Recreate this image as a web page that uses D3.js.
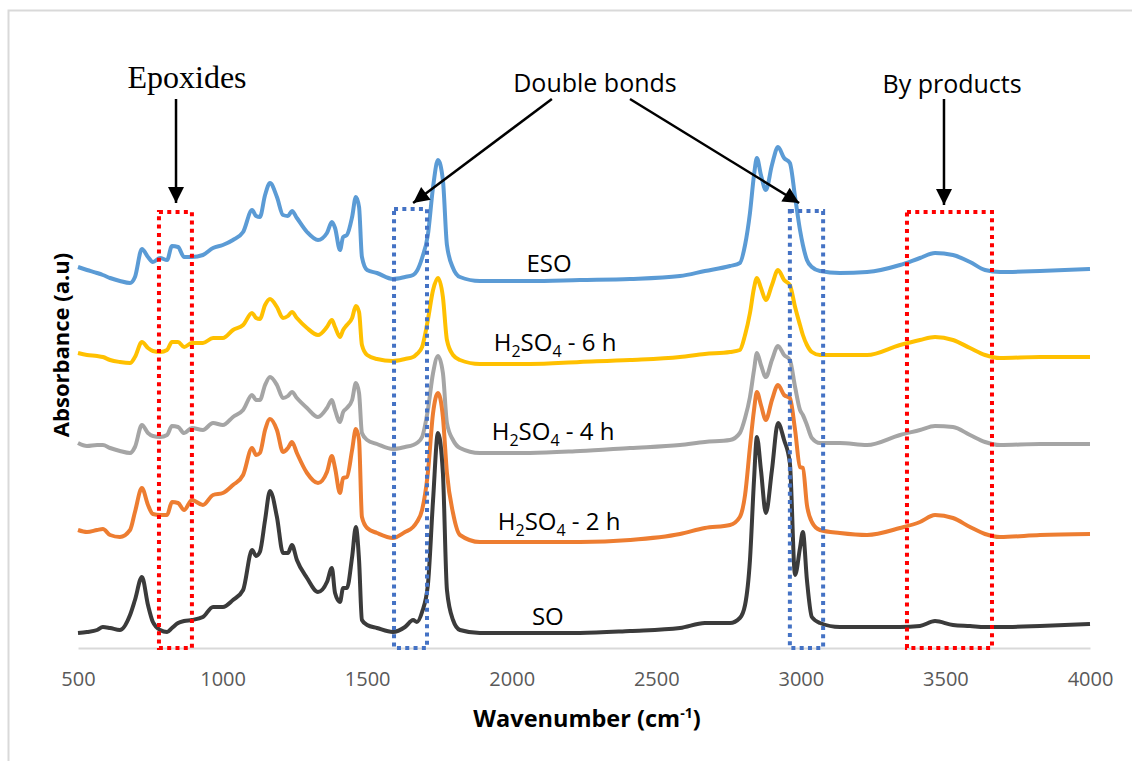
<!DOCTYPE html>
<html>
<head>
<meta charset="utf-8">
<script src="https://cdn.jsdelivr.net/npm/d3@7"></script>
<style>
  body { margin: 0; background: #fff; }
  svg { display: block; }
</style>
</head>
<body>
<script>
// wavenumbers (cm-1) shared by all spectra
const wavenumber = [500, 531, 566, 586, 611, 645, 680, 697, 721, 742, 759, 784, 808, 825, 846, 867, 894, 932, 967, 1001,
  1036, 1071, 1102, 1116, 1129, 1147, 1164, 1188, 1209, 1226, 1240, 1257, 1292, 1330, 1361, 1378, 1389, 1406, 1417, 1430,
  1448, 1461, 1472, 1482, 1500, 1534, 1589, 1631, 1659, 1672, 1690, 1710, 1728, 1745, 1762, 1776, 1797, 1821, 1890, 2063,
  2236, 2409, 2582, 2668, 2755, 2789, 2807, 2824, 2838, 2848, 2862, 2879, 2900, 2921, 2942, 2962, 2980, 2997, 3007, 3021,
  3038, 3066, 3135, 3229, 3343, 3412, 3464, 3526, 3585, 3637, 3689, 3827, 4000]

// absorbance (a.u., stacked with offsets as in the figure)
const eso = [3.81, 3.78, 3.75, 3.73, 3.70, 3.67, 3.65, 3.71, 3.99, 3.91, 3.86, 3.90, 3.88, 4.02, 4.01, 3.91, 3.91, 3.93, 4.00, 4.03,
  4.08, 4.16, 4.38, 4.32, 4.31, 4.53, 4.65, 4.51, 4.33, 4.32, 4.37, 4.30, 4.16, 4.08, 4.15, 4.26, 4.20, 3.98, 4.11, 4.13,
  4.31, 4.51, 4.41, 3.91, 3.78, 3.75, 3.69, 3.71, 3.73, 3.77, 3.90, 4.13, 4.61, 4.88, 4.68, 4.03, 3.80, 3.71, 3.67, 3.67,
  3.68, 3.69, 3.72, 3.77, 3.82, 3.85, 4.03, 4.35, 4.73, 4.90, 4.73, 4.58, 4.83, 5.01, 4.90, 4.85, 4.51, 4.18, 4.03, 3.88,
  3.81, 3.77, 3.75, 3.76, 3.83, 3.90, 3.95, 3.93, 3.86, 3.78, 3.76, 3.77, 3.79]

const h2so4_6h = [2.95, 2.93, 2.92, 2.91, 2.88, 2.86, 2.85, 2.91, 3.06, 3.00, 2.97, 2.96, 2.98, 3.06, 3.06, 3.01, 3.05, 3.05, 3.10, 3.10,
  3.18, 3.23, 3.35, 3.30, 3.29, 3.43, 3.49, 3.41, 3.30, 3.32, 3.36, 3.30, 3.20, 3.13, 3.21, 3.28, 3.21, 3.11, 3.18, 3.23,
  3.30, 3.42, 3.36, 3.03, 2.93, 2.89, 2.87, 2.89, 2.91, 2.94, 3.01, 3.28, 3.58, 3.70, 3.51, 3.08, 2.93, 2.88, 2.84, 2.84,
  2.86, 2.88, 2.91, 2.94, 2.96, 2.98, 3.13, 3.35, 3.60, 3.70, 3.60, 3.48, 3.63, 3.78, 3.68, 3.63, 3.41, 3.23, 3.13, 3.03,
  2.96, 2.93, 2.93, 2.93, 3.03, 3.08, 3.11, 3.08, 3.00, 2.93, 2.90, 2.91, 2.91]

const h2so4_4h = [2.05, 2.02, 2.03, 2.03, 2.00, 1.97, 1.95, 2.01, 2.23, 2.15, 2.12, 2.11, 2.13, 2.22, 2.21, 2.15, 2.20, 2.18, 2.25, 2.23,
  2.31, 2.38, 2.53, 2.48, 2.48, 2.63, 2.71, 2.63, 2.50, 2.52, 2.56, 2.50, 2.40, 2.31, 2.40, 2.48, 2.38, 2.26, 2.36, 2.40,
  2.48, 2.65, 2.55, 2.15, 2.08, 2.04, 1.99, 2.01, 2.03, 2.05, 2.11, 2.38, 2.75, 2.92, 2.75, 2.25, 2.08, 2.00, 1.95, 1.95,
  1.97, 2.00, 2.03, 2.06, 2.08, 2.15, 2.30, 2.51, 2.78, 2.95, 2.83, 2.71, 2.88, 3.02, 2.93, 2.88, 2.61, 2.38, 2.33, 2.23,
  2.10, 2.05, 2.05, 2.03, 2.13, 2.18, 2.22, 2.21, 2.13, 2.06, 2.03, 2.04, 2.04]

const h2so4_2h = [1.18, 1.16, 1.18, 1.19, 1.13, 1.11, 1.18, 1.36, 1.60, 1.43, 1.34, 1.33, 1.33, 1.46, 1.45, 1.38, 1.48, 1.43, 1.53, 1.55,
  1.63, 1.73, 2.00, 1.93, 1.95, 2.18, 2.29, 2.18, 1.96, 2.00, 2.06, 1.95, 1.75, 1.65, 1.76, 1.92, 1.80, 1.55, 1.70, 1.71,
  1.98, 2.19, 2.08, 1.31, 1.20, 1.15, 1.10, 1.16, 1.21, 1.26, 1.38, 1.75, 2.35, 2.55, 2.31, 1.75, 1.35, 1.13, 1.06, 1.06,
  1.06, 1.08, 1.14, 1.20, 1.23, 1.31, 1.53, 2.01, 2.38, 2.56, 2.43, 2.28, 2.48, 2.63, 2.53, 2.50, 2.18, 1.81, 1.80, 1.43,
  1.26, 1.18, 1.15, 1.13, 1.20, 1.26, 1.33, 1.30, 1.21, 1.14, 1.11, 1.13, 1.14]

const so = [0.15, 0.16, 0.18, 0.21, 0.20, 0.18, 0.33, 0.48, 0.71, 0.43, 0.26, 0.18, 0.16, 0.20, 0.25, 0.27, 0.28, 0.31, 0.41, 0.41,
  0.48, 0.58, 0.98, 0.92, 0.96, 1.28, 1.57, 1.31, 0.95, 0.95, 1.03, 0.88, 0.70, 0.56, 0.66, 0.80, 0.55, 0.46, 0.60, 0.60,
  0.91, 1.21, 0.88, 0.28, 0.23, 0.20, 0.16, 0.21, 0.28, 0.26, 0.36, 0.63, 1.48, 2.15, 1.75, 0.58, 0.28, 0.18, 0.15, 0.15,
  0.15, 0.17, 0.20, 0.25, 0.25, 0.30, 0.43, 0.88, 1.68, 2.11, 1.78, 1.35, 1.78, 2.25, 2.08, 1.85, 0.73, 1.00, 1.16, 0.68,
  0.31, 0.25, 0.21, 0.21, 0.21, 0.22, 0.27, 0.23, 0.22, 0.21, 0.21, 0.22, 0.24]

const seriesNames = ['ESO', 'H_2SO_4 - 6 h', 'H_2SO_4 - 4 h', 'H_2SO_4 - 2 h', 'SO']
const seriesColors = ['#5b9bd5', '#ffc000', '#a5a5a5', '#ed7d31', '#3b3b3b']
// where each curve label sits: [wavenumber, absorbance]
const labelAt = [[2129, 3.76], [2150, 2.97], [2143, 2.08], [2164, 1.18], [2125, 0.23]]

const tickValues = [500, 1000, 1500, 2000, 2500, 3000, 3500, 4000]

// highlighted regions: [from, to, top absorbance, colour]
const regions = [[780, 894, 4.36, '#ff0000'], [1593, 1707, 4.39, '#4472c4'],
  [2962, 3077, 4.37, '#4472c4'], [3367, 3661, 4.36, '#ff0000']]
// annotation arrows: [x0, y0, x1, y1] in wavenumber / absorbance
const arrows = [[839, 5.49, 839, 4.45], [2139, 5.49, 1659, 4.45], [2409, 5.49, 2994, 4.45], [3495, 5.49, 3495, 4.43]]
const notes = [['Epoxides', 877, 5.60, 'serif'], ['Double bonds', 2288, 5.56, 'sans'], ['By products', 3523, 5.55, 'sans']]

const W = 1132, H = 761
const sans = '"Open Sans", "Noto Sans", sans-serif'

const svg = d3.select('body').append('svg')
  .attr('width', W).attr('height', H)
  .style('font-family', sans)

// light frame of the original figure
svg.append('rect')
  .attr('x', 8.5).attr('y', 10.5).attr('width', 1200).attr('height', 800)
  .attr('fill', 'none').attr('stroke', '#d9d9d9').attr('stroke-width', 2)

const x = d3.scaleLinear().domain([500, 4000]).range([78, 1090])
const y = d3.scaleLinear().domain([0, 5]).range([648, 148])

// x axis
const gx = svg.append('g')
  .attr('transform', `translate(0,${y(0)})`)
  .call(d3.axisBottom(x).tickValues(tickValues).tickSize(0).tickPadding(24).tickFormat(d3.format('d')))
gx.select('.domain').attr('stroke', '#d9d9d9').attr('stroke-width', 2)
gx.selectAll('text').attr('fill', '#595959').style('font-size', '20px').style('font-family', sans)

// spectra
const allSeries = [eso, h2so4_6h, h2so4_4h, h2so4_2h, so]
const line = d3.line()
  .x((d, i) => x(wavenumber[i]))
  .y((d) => y(d))
  .curve(d3.curveMonotoneX)

svg.append('g').selectAll('path').data(allSeries).join('path')
  .attr('d', line)
  .attr('fill', 'none')
  .attr('stroke', (d, i) => seriesColors[i])
  .attr('stroke-width', 4)
  .attr('stroke-linejoin', 'round')

// writes "H_2SO_4" style text with subscripts
function richText(sel, str) {
  const parts = str.split(/(_\d)/).filter((s) => s.length)
  let shifted = false
  parts.forEach((p) => {
    const t = sel.append('tspan')
    if (p[0] === '_') {
      t.text(p.slice(1)).style('font-size', '16px').attr('dy', shifted ? 0 : 6)
      shifted = true
    } else {
      t.text(p).attr('dy', shifted ? -6 : 0)
      shifted = false
    }
  })
}

svg.append('g').selectAll('text').data(seriesNames).join('text')
  .attr('x', (d, i) => x(labelAt[i][0]))
  .attr('y', (d, i) => y(labelAt[i][1]))
  .attr('text-anchor', 'middle')
  .style('font-size', '24px')
  .attr('fill', '#000')
  .each(function (d) { richText(d3.select(this), d) })

// dotted boxes
svg.append('g').selectAll('rect').data(regions).join('rect')
  .attr('x', (d) => x(d[0]))
  .attr('y', (d) => y(d[2]))
  .attr('width', (d) => x(d[1]) - x(d[0]))
  .attr('height', (d) => y(0) - y(d[2]))
  .attr('fill', 'none')
  .attr('stroke', (d) => d[3])
  .attr('stroke-width', 4)
  .attr('stroke-dasharray', '4 4.3')

// arrows
svg.append('defs').append('marker')
  .attr('id', 'head')
  .attr('viewBox', '0 0 10 10')
  .attr('refX', 10).attr('refY', 5)
  .attr('markerUnits', 'userSpaceOnUse')
  .attr('markerWidth', 17).attr('markerHeight', 16)
  .attr('orient', 'auto')
  .append('path').attr('d', 'M0,0L10,5L0,10Z').attr('fill', '#000')

svg.append('g').selectAll('line').data(arrows).join('line')
  .attr('x1', (d) => x(d[0])).attr('y1', (d) => y(d[1]))
  .attr('x2', (d) => x(d[2])).attr('y2', (d) => y(d[3]))
  .attr('stroke', '#000').attr('stroke-width', 2.5)
  .attr('marker-end', 'url(#head)')

svg.append('g').selectAll('text').data(notes).join('text')
  .attr('x', (d) => x(d[1])).attr('y', (d) => y(d[2]))
  .attr('text-anchor', 'middle')
  .style('font-family', (d) => d[3] === 'serif' ? '"Liberation Serif", "DejaVu Serif", serif' : sans)
  .style('font-size', (d) => d[3] === 'serif' ? '32px' : '25px')
  .text((d) => d[0])

// axis titles
const xt = svg.append('text')
  .attr('x', 587).attr('y', 727)
  .attr('text-anchor', 'middle')
  .style('font-size', '23.5px').style('font-weight', 700)
xt.append('tspan').text('Wavenumber (cm')
xt.append('tspan').text('-1').attr('dy', -9).style('font-size', '14px')
xt.append('tspan').text(')').attr('dy', 9)

svg.append('text')
  .attr('transform', 'translate(69,345) rotate(-90)')
  .attr('text-anchor', 'middle')
  .style('font-size', '22px').style('font-weight', 700)
  .text('Absorbance (a.u)')
</script>
</body>
</html>
